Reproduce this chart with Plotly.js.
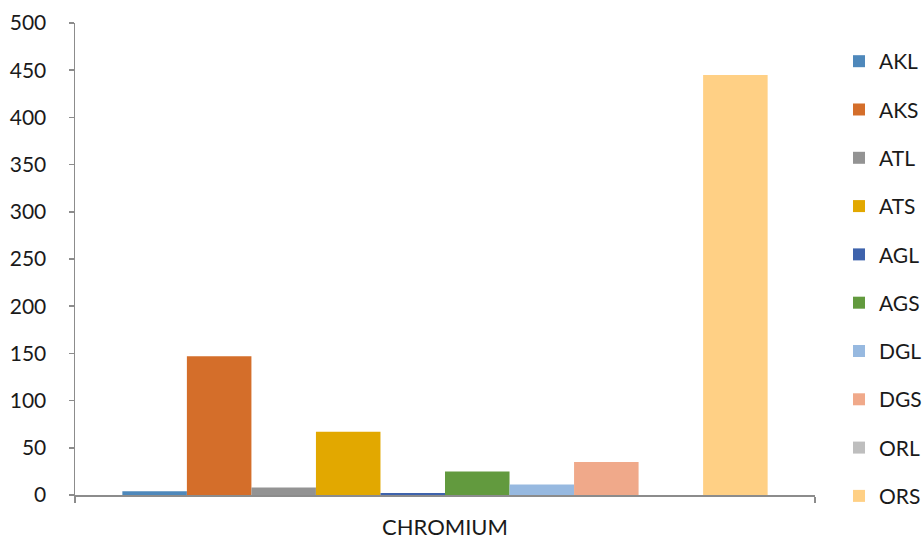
<!DOCTYPE html>
<html>
<head>
<meta charset="utf-8">
<script src="https://cdn.plot.ly/plotly-3.0.1.min.js"></script>
<style>html,body{margin:0;padding:0;background:#fff}#chart{width:924px;height:540px}</style>
</head>
<body>
<div id="chart"></div>
<script>
const category = ["CHROMIUM"];
const seriesNames = ["AKL","AKS","ATL","ATS","AGL","AGS","DGL","DGS","ORL","ORS"];
const seriesValues = [4, 147, 8, 67, 2, 25, 11, 35, 0, 445];
const seriesColors = ["#4e88bb","#d46e2a","#939393","#e2a800","#3e63ac","#629a3e","#97b9e0","#f0a98a","#bebebe","#ffd085"];
const yTicks = [0,50,100,150,200,250,300,350,400,450,500];

const traces = seriesNames.map((n,i)=>({
  type:'bar', name:n, x:category, y:[seriesValues[i]],
  marker:{color:seriesColors[i], line:{width:0}},
  legendgroup:n, hoverinfo:'y'
}));

const layout = {
  width:924, height:540,
  margin:{l:75, r:109, t:23, b:45, pad:0, autoexpand:false},
  paper_bgcolor:'#fff', plot_bgcolor:'#fff',
  font:{family:'Lato, "Open Sans", sans-serif', size:21, color:'#1a1a1a'},
  barmode:'group', bargap:0.128, bargroupgap:0,
  showlegend:true,
  legend:{xref:'container', yref:'container', x:0.908, xanchor:'left', y:0.924, yanchor:'top',
          font:{size:21, color:'#1a1a1a'}, tracegroupgap:18, traceorder:'grouped',
          maxheight:540, bgcolor:'rgba(0,0,0,0)'},
  xaxis:{type:'category', showline:true, linecolor:'#8c8c8c', linewidth:1.5,
         ticks:'outside', tickson:'boundaries', ticklen:6, tickcolor:'#8c8c8c', tickwidth:1.5,
         showgrid:false, zeroline:false, tickfont:{size:22}, ticklabelstandoff:12},
  yaxis:{range:[0,500], tickvals:yTicks, ticktext:yTicks.map(String),
         showline:true, linecolor:'#8c8c8c', linewidth:1.5,
         ticks:'outside', ticklen:5, tickcolor:'#8c8c8c', tickwidth:1.5,
         showgrid:false, zeroline:false, tickfont:{size:21}, ticklabelstandoff:18}
};
Plotly.newPlot('chart', traces, layout, {staticPlot:true, displayModeBar:false});
</script>
</body>
</html>
